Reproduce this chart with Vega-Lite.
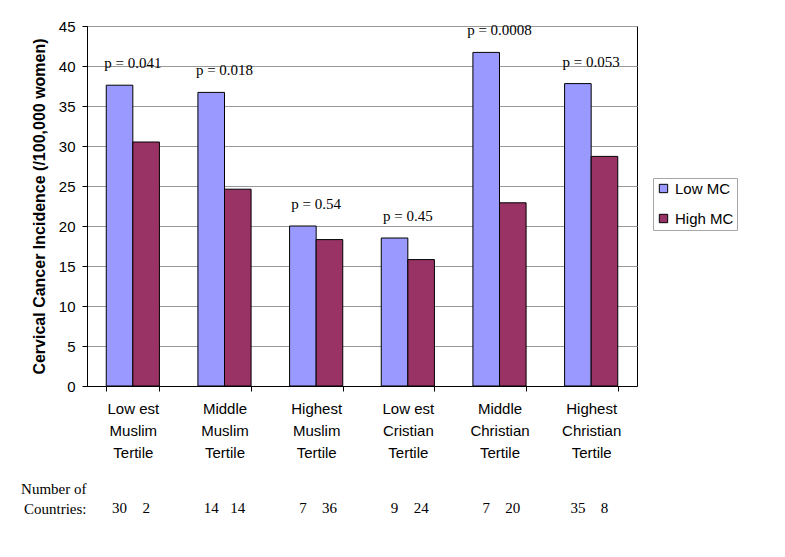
{
  "$schema": "https://vega.github.io/schema/vega-lite/v6.json",
  "padding": {"top": 18, "left": 20, "right": 10, "bottom": 5},
  "background": "white",
  "config": {"view": {"stroke": "black", "strokeWidth": 1}, "font": "Liberation Sans"},
  "datasets": {
    "bars": [
      {"tertile": "Low est|Muslim|Tertile", "group": "Low MC", "incidence": 37.6, "p": "p = 0.041", "countries": 30},
      {"tertile": "Low est|Muslim|Tertile", "group": "High MC", "incidence": 30.5, "p": "", "countries": 2},
      {"tertile": "Middle|Muslim|Tertile", "group": "Low MC", "incidence": 36.7, "p": "p = 0.018", "countries": 14},
      {"tertile": "Middle|Muslim|Tertile", "group": "High MC", "incidence": 24.6, "p": "", "countries": 14},
      {"tertile": "Highest|Muslim|Tertile", "group": "Low MC", "incidence": 20.0, "p": "p = 0.54", "countries": 7},
      {"tertile": "Highest|Muslim|Tertile", "group": "High MC", "incidence": 18.3, "p": "", "countries": 36},
      {"tertile": "Low est|Cristian|Tertile", "group": "Low MC", "incidence": 18.5, "p": "p = 0.45", "countries": 9},
      {"tertile": "Low est|Cristian|Tertile", "group": "High MC", "incidence": 15.8, "p": "", "countries": 24},
      {"tertile": "Middle|Christian|Tertile", "group": "Low MC", "incidence": 41.7, "p": "p = 0.0008", "countries": 7},
      {"tertile": "Middle|Christian|Tertile", "group": "High MC", "incidence": 22.9, "p": "", "countries": 20},
      {"tertile": "Highest|Christian|Tertile", "group": "Low MC", "incidence": 37.8, "p": "p = 0.053", "countries": 35},
      {"tertile": "Highest|Christian|Tertile", "group": "High MC", "incidence": 28.7, "p": "", "countries": 8}
    ]
  },
  "spacing": 20,
  "vconcat": [
    {
      "width": 550,
      "height": 360,
      "data": {"name": "bars"},
      "encoding": {
        "x": {
          "field": "tertile", "type": "nominal", "sort": null,
          "scale": {"paddingInner": 0.42, "paddingOuter": 0.21},
          "axis": {
            "title": null, "labelAngle": 0, "labelExpr": "split(datum.label, '|')",
            "labelFontSize": 15, "labelLineHeight": 22, "labelPadding": 10,
            "labelBaseline": "top", "labelColor": "black",
            "tickBand": "extent", "tickColor": "black", "tickSize": 5,
            "domainColor": "black"
          }
        },
        "y": {
          "field": "incidence", "type": "quantitative",
          "scale": {"domain": [0, 45], "nice": false},
          "axis": {
            "title": "Cervical Cancer Incidence (/100,000 women)",
            "titleFontSize": 16, "titleFontWeight": "bold", "titleColor": "black", "titlePadding": 11,
            "values": [0, 5, 10, 15, 20, 25, 30, 35, 40, 45], "labelOverlap": false,
            "labelFontSize": 15, "labelPadding": 7, "labelColor": "black",
            "tickSize": 5, "tickColor": "black", "domainColor": "black",
            "gridColor": "#999999", "gridOpacity": 1
          }
        }
      },
      "layer": [
        {
          "mark": {"type": "bar", "stroke": "black", "strokeWidth": 1},
          "encoding": {
            "xOffset": {"field": "group", "type": "nominal", "sort": ["Low MC", "High MC"], "scale": {"paddingInner": 0, "paddingOuter": 0}},
            "color": {
              "field": "group", "type": "nominal",
              "scale": {"domain": ["Low MC", "High MC"], "range": ["#9999ff", "#993366"]},
              "legend": {
                "title": null, "orient": "none", "legendX": 566, "legendY": 152,
                "strokeColor": "#a6a6a6", "padding": 3,
                "symbolType": "square", "symbolSize": 70, "symbolStrokeColor": "black", "symbolStrokeWidth": 1, "symbolOpacity": 1,
                "labelFontSize": 15, "labelColor": "black", "rowPadding": 14
              }
            }
          }
        },
        {
          "transform": [{"filter": "datum.group == 'Low MC'"}],
          "mark": {"type": "text", "font": "Liberation Serif", "fontSize": 15, "baseline": "middle", "dy": -22, "color": "black"},
          "encoding": {
            "text": {"field": "p"}
          }
        }
      ]
    },
    {
      "width": 550,
      "height": 20,
      "view": {"stroke": null},
      "data": {"name": "bars"},
      "mark": {"type": "text", "font": "Liberation Serif", "fontSize": 15, "baseline": "bottom", "dy": 20, "color": "black"},
      "encoding": {
        "x": {"field": "tertile", "type": "nominal", "sort": null, "scale": {"paddingInner": 0.42, "paddingOuter": 0.21}, "axis": null},
        "xOffset": {"field": "group", "type": "nominal", "sort": ["Low MC", "High MC"], "scale": {"paddingInner": 0, "paddingOuter": 0}},
        "y": {
          "datum": "Countries:", "type": "nominal",
          "axis": {
            "title": null, "domain": false, "ticks": false,
            "labelExpr": "['Number of', 'Countries:']",
            "labelFont": "Liberation Serif", "labelFontSize": 15, "labelLineHeight": 20,
            "labelBaseline": "bottom", "labelAlign": "right", "labelPadding": 1, "labelColor": "black"
          }
        },
        "text": {"field": "countries"}
      }
    }
  ]
}
